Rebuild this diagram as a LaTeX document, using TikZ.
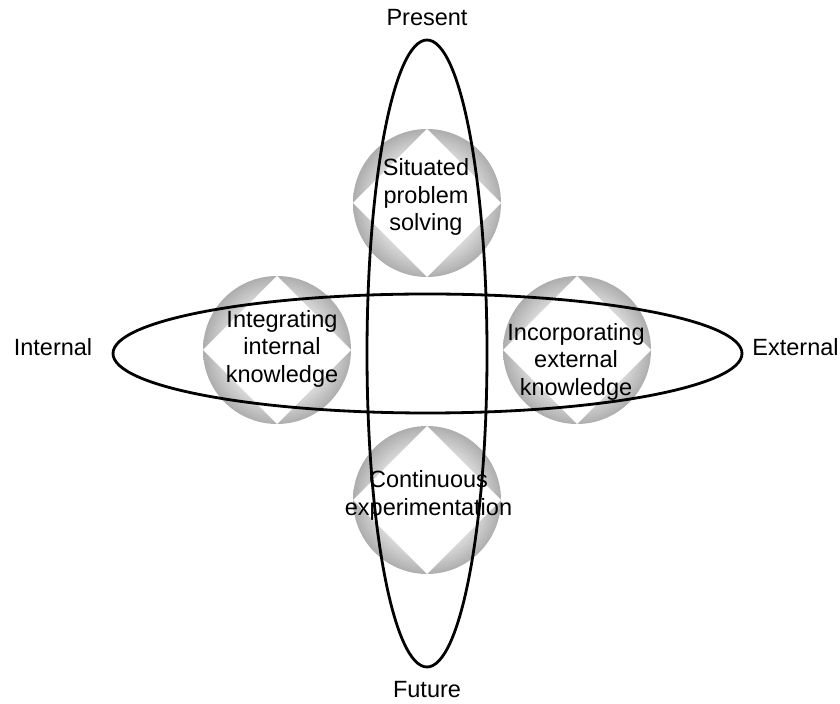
\documentclass[tikz,border=0pt]{standalone}
\usepackage{fontspec}
\setmainfont{Liberation Sans}

% grey ring, light next to the diamond and darker at the rim
\pgfdeclareradialshading{discshade}{\pgfpoint{0bp}{0bp}}{color(0bp)=(gray!22); color(17bp)=(gray!26); color(25bp)=(gray!64); color(50bp)=(gray!64)}

\tikzset{
	disc/.style={shading=discshade},
	gem/.style={fill=white},
	loop line/.style={line width=1.4pt},
	label text/.style={font=\fontsize{11.75}{13.75}\selectfont, align=center, inner sep=0pt},
}

\begin{document}
\begin{tikzpicture}[x=0.5pt,y=-0.5pt]
	\useasboundingbox (0,0) rectangle (840,704);

	% four discs, each with a white diamond
	\foreach \name/\cx/\cy in {situated/427/203, internal/277/350, external/577/350, future/427/500}{
		\coordinate (\name) at (\cx,\cy);
		\shade[disc] (\name) circle (74);
		\fill[gem] (\cx,\cy-74) -- (\cx+74,\cy) -- (\cx,\cy+74) -- (\cx-74,\cy) -- cycle;
	}

	% time axis and knowledge axis
	\draw[loop line] (427.5,353.5) ellipse (314.5 and 59.5);
	\draw[loop line] (427,353.5) ellipse (60 and 313.5);

	\node[label text] (solving) at (426,197) {Situated\\problem\\solving};
	\node[label text] (integrating) at (282,348.5) {Integrating\\internal\\knowledge};
	\node[label text] (incorporating) at (576,361.5) {Incorporating\\external\\knowledge};
	\node[label text] (experimenting) at (428.5,495.5) {Continuous\\experimentation};

	\node[label text] (present) at (427,17.6) {Present};
	\node[label text] (futurelbl) at (427,689.6) {Future};
	\node[label text] (internallbl) at (53,347.6) {Internal};
	\node[label text] (externallbl) at (795.5,347.6) {External};
\end{tikzpicture}
\end{document}
